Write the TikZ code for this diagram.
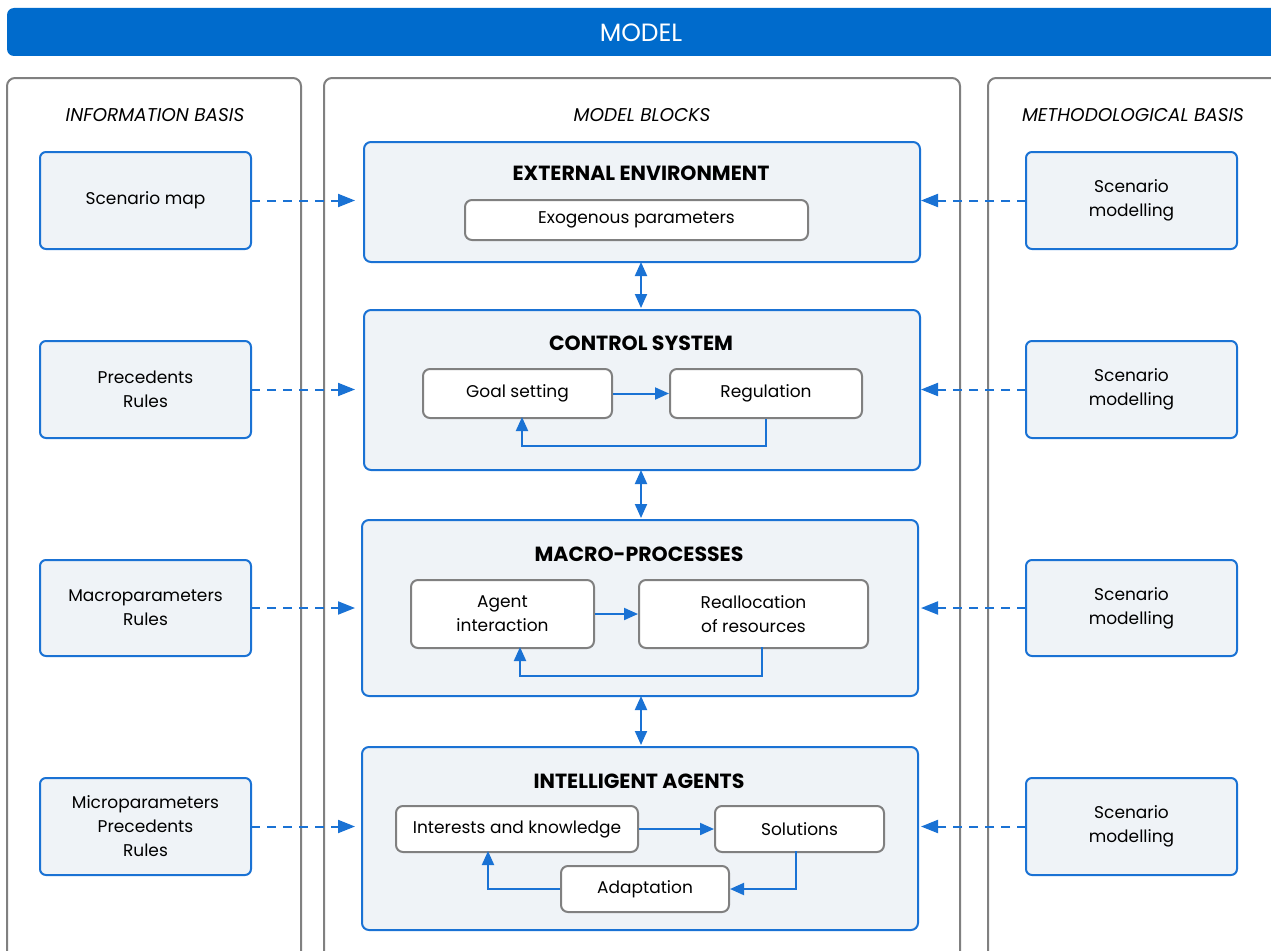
\documentclass[tikz,border=0pt]{standalone}
\usepackage{fontspec}
\setmainfont{Poppins}
\usetikzlibrary{arrows.meta,positioning,calc}
\definecolor{bannerblue}{HTML}{006BCC}
\definecolor{lineblue}{HTML}{1A72D4}
\definecolor{boxfill}{HTML}{EFF3F7}
\definecolor{framegray}{HTML}{808080}
\tikzset{
  x=1pt,y=-1pt,
  frame/.style={draw=framegray,line width=2pt,rounded corners=8pt},
  sidebox/.style={draw=lineblue,line width=2pt,fill=boxfill,rounded corners=6pt},
  block/.style={draw=lineblue,line width=2pt,fill=boxfill,rounded corners=7pt},
  inner/.style={draw=framegray,line width=2pt,fill=white,rounded corners=7pt},
  lbl/.style={font=\fontsize{17}{24}\selectfont,align=center,text=black},
  ttl/.style={font=\fontsize{20.5}{24}\selectfont\bfseries,text=black},
  hdr/.style={font=\fontsize{18.5}{22}\selectfont\itshape,text=black},
  flow/.style={draw=lineblue,line width=2pt,-{Triangle[length=14pt,width=12pt]}},
  dflow/.style={draw=lineblue,line width=2pt,dash pattern=on 9pt off 7pt,-{Triangle[length=17pt,width=13pt]}},
  bflow/.style={draw=lineblue,line width=2pt,{Triangle[length=14pt,width=12pt]}-{Triangle[length=14pt,width=12pt]}},
}
\begin{document}
\begin{tikzpicture}
\useasboundingbox (0,0) rectangle (1271,950);
% banner
\fill[bannerblue,rounded corners=7pt] (7,8) rectangle (1290,56);
\node[font=\fontsize{25}{28}\selectfont,text=white] (model) at (641,33) {MODEL};
% column frames
\draw[frame] (7,970) -- (7,78) -- (301,78) -- (301,970);
\draw[frame] (324,970) -- (324,78) -- (960,78) -- (960,970);
\draw[frame] (988,970) -- (988,78) -- (1290,78);
\node[hdr] (h1) at (155,115) {INFORMATION BASIS};
\node[hdr] (h2) at (642,115) {MODEL BLOCKS};
\node[hdr] (h3) at (1133,115) {METHODOLOGICAL BASIS};
% side boxes
\foreach \n/\ya/\yb/\t in {l1/152/249/{Scenario map},l2/341/438/{Precedents\\Rules},l3/560/656/{Macroparameters\\Rules},l4/778/875/{Microparameters\\Precedents\\Rules}}{
  \draw[sidebox] (40,\ya) rectangle (251,\yb);
  \path (40,\ya) -- (251,\yb) node[midway,lbl] {\t};
  \coordinate (\n) at (251,{(\ya+\yb)/2});
}
\foreach \n/\ya/\yb in {r1/152/249,r2/341/438,r3/560/656,r4/778/875}{
  \draw[sidebox] (1026,\ya) rectangle (1237,\yb);
  \path (1026,\ya) -- (1237,\yb) node[midway,lbl] {Scenario\\modelling};
  \coordinate (\n) at (1026,{(\ya+\yb)/2});
}
% blocks
\node[block,minimum width=556pt,minimum height=120pt,anchor=north west] (b1) at (363,141) {};
\node[block,minimum width=556pt,minimum height=160pt,anchor=north west] (b2) at (363,309) {};
\node[block,minimum width=556pt,minimum height=176pt,anchor=north west] (b3) at (361,519) {};
\node[block,minimum width=556pt,minimum height=183pt,anchor=north west] (b4) at (361,746) {};
\node[ttl] (t1) at (641,173) {EXTERNAL ENVIRONMENT};
\node[ttl] (t2) at (641,343) {CONTROL SYSTEM};
\node[ttl] (t3) at (639,554) {MACRO-PROCESSES};
\node[ttl] (t4) at (639,781) {INTELLIGENT AGENTS};
% inner boxes
\node[inner,lbl,minimum width=343pt,minimum height=40pt,anchor=north west,inner sep=0pt] (exo) at (464,199) {Exogenous parameters};
\node[inner,lbl,minimum width=189pt,minimum height=49pt,anchor=north west,inner sep=0pt] (goal) at (422,368) {Goal setting};
\node[inner,lbl,minimum width=192pt,minimum height=49pt,anchor=north west,inner sep=0pt] (reg) at (669,368) {Regulation};
\node[inner,lbl,minimum width=183pt,minimum height=68pt,anchor=north west,inner sep=0pt] (agent) at (410,579) {Agent\\interaction};
\node[inner,lbl,minimum width=229pt,minimum height=68pt,anchor=north west,inner sep=0pt] (realloc) at (638,579) {Reallocation\\of resources};
\node[inner,lbl,minimum width=242pt,minimum height=46pt,anchor=north west,inner sep=0pt] (inter) at (395,805) {Interests and knowledge};
\node[inner,lbl,minimum width=169pt,minimum height=46pt,anchor=north west,inner sep=0pt] (sol) at (714,805) {Solutions};
\node[inner,lbl,minimum width=168pt,minimum height=46pt,anchor=north west,inner sep=0pt] (adapt) at (560,865) {Adaptation};
% inner arrows
\draw[flow] (goal.east) -- (reg.west);
\draw[flow] (reg.south) |- (522,446) -- (522,417);
\draw[flow] (agent.east) -- (realloc.west);
\draw[flow] (762,647) |- (520,676) -- (520,647);
\draw[flow] (inter.east) -- (sol.west);
\draw[flow] (796,851) |- (adapt.east);
\draw[flow] (adapt.west) -| (488,851);
% vertical double arrows
\draw[bflow] (641,262) -- (641,308);
\draw[bflow] (641,470) -- (641,518);
\draw[bflow] (641,696) -- (641,745);
% dashed arrows
\foreach \n in {1,2,3,4}{
  \coordinate (le\n) at ($(l\n -| b1.west)+(-8,0)$);
  \draw[dflow] (l\n) -- (le\n);
  \draw[dflow] (r\n) -- (r\n -| b1.east);
}
\end{tikzpicture}
\end{document}
